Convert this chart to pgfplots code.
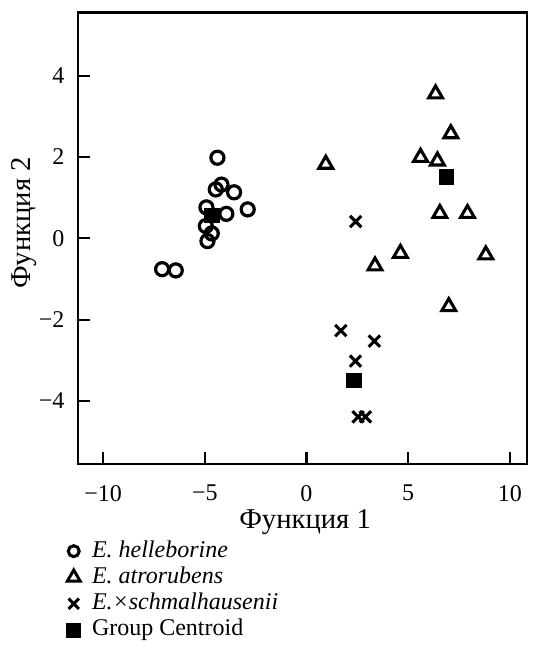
\documentclass[border=0pt]{standalone}
\usepackage{fontspec}
\setmainfont{Liberation Serif}
\usepackage{pgfplots}
\pgfplotsset{compat=1.18}
\begin{document}
\begin{tikzpicture}
\path[use as bounding box] (-58.3pt,-138pt) rectangle (342.2pt,348pt);
\begin{axis}[
  scale only axis, width=337pt, height=338.6pt,
  xmin=-11.25, xmax=10.85, ymin=-5.55, ymax=5.55,
  axis line style={line width=1.6pt},
  tick style={line width=1.6pt, black},
  major tick length=9pt,
  tick align=inside,
  xtick={-10,-5,0,5,10}, xticklabels={−10,−5,0,5,10},
  ytick={-4,-2,0,2,4}, yticklabels={−4,−2,0,2,4},
  xtick pos=bottom, ytick pos=left,
  ticklabel style={font=\fontsize{18}{20}\selectfont},
  xticklabel style={anchor=north, inner sep=0pt, yshift=-15.75pt},
  yticklabel style={anchor=east, inner sep=0pt, xshift=-9.75pt},
  xlabel={Функция 1}, ylabel={Функция 2},
  label style={font=\fontsize{21.5}{24}\selectfont},
  xlabel style={at={(axis description cs:0.506,-0.128)}, anchor=center},
  ylabel style={at={(axis description cs:-0.120,0.534)}, anchor=center},
  legend style={at={(axis description cs:-0.0243,-0.168)}, anchor=north west, draw=none, fill=none, inner sep=0pt, outer sep=0pt, font=\fontsize{18}{20}\selectfont, row sep=2.7pt, nodes={inner sep=0pt, text height=13pt, text depth=4pt}, /tikz/every odd column/.append style={column sep=8.5pt}},
  legend cell align=left,
  legend image code/.code={\draw[#1] plot coordinates {(0pt,0pt)};},
]
\addlegendimage{only marks, mark=o, mark size=4.1pt, line width=2.3pt, black}
\addlegendentry{\textit{E. helleborine}}
\addlegendimage{only marks, mark=triangle, mark size=5.6pt, line width=2.2pt, black}
\addlegendentry{\textit{E. atrorubens}}
\addlegendimage{only marks, mark=x, mark size=5.5pt, line width=2.2pt, black}
\addlegendentry{\textit{E.×schmalhausenii}}
\addlegendimage{only marks, mark=square*, mark size=5.2pt, line width=0.5pt, black}
\addlegendentry{Group Centroid}

\addplot[only marks, mark=o, mark size=4.9pt, line width=2.4pt, black, forget plot] coordinates {
(-4.38,1.98) (-4.18,1.32) (-4.46,1.20) (-3.56,1.13) (-2.89,0.71) (-4.92,0.76)
(-3.94,0.60) (-4.95,0.30) (-4.66,0.12) (-4.87,-0.07) (-7.10,-0.76) (-6.43,-0.79)
};
\addplot[only marks, mark=triangle, mark size=6pt, line width=2.3pt, black, forget plot] coordinates {
(6.35,3.55) (7.10,2.57) (0.95,1.82) (5.61,1.99) (6.44,1.90) (6.56,0.61)
(7.92,0.61) (4.62,-0.37) (3.37,-0.68) (8.82,-0.41) (7.00,-1.68)
};
\addplot[only marks, mark=x, mark size=6pt, line width=2.3pt, black, forget plot] coordinates {
(2.42,0.41) (1.69,-2.27) (3.34,-2.53) (2.41,-3.02) (2.54,-4.39) (2.90,-4.39)
};
\addplot[only marks, mark=square*, mark size=5.4pt, line width=0.5pt, black, forget plot] coordinates {
(-4.66,0.56) (6.89,1.51) (2.33,-3.50)
};
\end{axis}
\end{tikzpicture}
\end{document}
